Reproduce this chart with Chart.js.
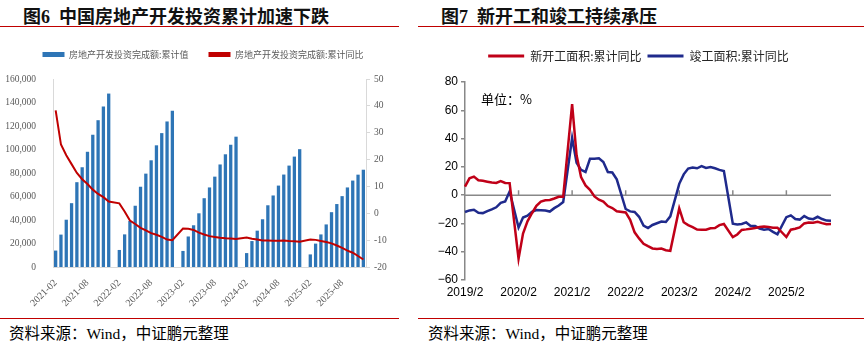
<!DOCTYPE html>
<html>
<head>
<meta charset="utf-8">
<script src="https://cdn.jsdelivr.net/npm/chart.js@4.4.0/dist/chart.umd.min.js"></script>
<style>
  body { margin: 0; background: #fff; width: 864px; height: 347px; overflow: hidden; position: relative; font-family: "Noto Sans CJK SC", sans-serif; }
  .title { position: absolute; top: 2px; font-size: 18px; font-weight: bold; color: #111; white-space: nowrap; font-family: "Liberation Serif", "Noto Sans CJK SC", serif; }
  .rule { position: absolute; height: 0; border-top: 1.5px solid #C00000; }
  .src { position: absolute; top: 321px; font-size: 15.5px; color: #000; white-space: nowrap; font-family: "Liberation Serif", "Noto Sans CJK SC", serif; }
  .box { position: absolute; }
  .unit { position: absolute; left: 481px; top: 89px; font-size: 13px; color: #000; }
</style>
</head>
<body>
<div class="title" style="left:23px">图6&nbsp;&nbsp;中国房地产开发投资累计加速下跌</div>
<div class="title" style="left:441px">图7&nbsp;&nbsp;新开工和竣工持续承压</div>
<div class="rule" style="left:0;width:399px;top:26px"></div>
<div class="rule" style="left:418px;width:446px;top:26px"></div>
<div class="rule" style="left:0;width:399px;top:318px"></div>
<div class="rule" style="left:418px;width:446px;top:318px"></div>
<div class="src" style="left:9px">资料来源：Wind，中证鹏元整理</div>
<div class="src" style="left:428px">资料来源：Wind，中证鹏元整理</div>

<div class="box" style="left:0;top:26px;width:400px;height:289px"><canvas id="inv"></canvas></div>
<div class="box" style="left:432px;top:40px;width:432px;height:275px"><canvas id="area"></canvas></div>
<div class="unit">单位：%</div>

<script>
// ---- data ----
const monthNums = ['01','02','03','04','05','06','07','08','09','10','11','12'];

// fig 6: investment, 2021-02 .. 2025-12 (Jan not published -> null)
const invYears = ['2021','2022','2023','2024','2025'];
const invLabels = [];
invYears.forEach(y => monthNums.forEach(m => invLabels.push(y + '-' + m)));
invLabels.shift(); // starts at 2021-02

const invValue = [
  13986, 27576, 40240, 54318, 72179, 84895, 98060, 112559, 124934, 136688, 147602,
  null, 14499, 27765, 39154, 52134, 68314, 79462, 90809, 103559, 113945, 123863, 132895,
  null, 13669, 25974, 35514, 45701, 58550, 67717, 76900, 87269, 95922, 104045, 110913,
  null, 11842, 22082, 30928, 40632, 52529, 60877, 69284, 78680, 86309, 93948, 100280,
  null, 10720, 19904, 27730, 36234, 46658, 53580, 60309, 67706, 73563, 78591, 82788
];
const invYoY = [
  38.3, 25.6, 21.6, 18.3, 15.0, 12.7, 10.9, 8.8, 7.2, 6.0, 4.4,
  null, 3.7, 0.7, -2.7, -4.0, -5.4, -6.4, -7.4, -8.0, -8.8, -9.8, -10.0,
  null, -5.7, -5.8, -6.2, -7.2, -7.9, -8.5, -8.8, -9.1, -9.3, -9.4, -9.6,
  null, -9.0, -9.5, -9.8, -10.1, -10.1, -10.2, -10.2, -10.1, -10.3, -10.4, -10.6,
  null, -9.8, -9.9, -10.3, -10.7, -11.2, -12.0, -12.9, -13.9, -14.7, -15.9, -17.2
];

// fig 7: new starts / completions, 2019/2 .. 2025/12
const areaYears = ['2019','2020','2021','2022','2023','2024','2025'];
const areaLabels = [];
areaYears.forEach(y => monthNums.forEach(m => areaLabels.push(y + '/' + Number(m))));
areaLabels.shift(); // starts at 2019/2

const newStartYoY = [
  6.0, 11.9, 13.1, 10.5, 10.1, 9.5, 8.9, 8.6, 10.0, 8.6, 8.5,
  null, -44.9, -27.2, -18.5, -12.8, -7.6, -4.5, -3.6, -3.4, -2.4, -1.2, -1.2,
  null, 64.3, 28.2, 12.8, 6.9, 3.8, -0.9, -3.2, -4.5, -7.7, -9.1, -11.4,
  null, -12.2, -17.5, -26.3, -30.6, -34.4, -36.1, -37.7, -38.0, -37.8, -38.9, -39.4,
  null, -9.4, -19.2, -21.2, -22.6, -24.3, -24.5, -24.4, -23.4, -23.2, -21.2, -20.4,
  null, -29.7, -27.8, -24.6, -24.2, -23.7, -23.2, -22.5, -22.2, -22.6, -23.0, -23.0,
  null, -29.6, -24.4, -23.8, -22.8, -20.0, -19.4, -19.5, -18.9, -19.8, -20.5, -20.4
];
const completedYoY = [
  -11.9, -10.8, -10.3, -12.4, -12.7, -11.3, -10.0, -8.6, -5.5, -4.5, 2.6,
  null, -22.9, -15.8, -14.5, -11.8, -10.5, -10.6, -10.8, -11.6, -9.2, -7.3, -4.9,
  null, 40.4, 22.9, 17.9, 16.4, 25.7, 25.7, 26.0, 23.4, 16.3, 16.0, 11.2,
  null, -9.8, -11.5, -11.9, -15.3, -21.5, -23.3, -21.1, -19.9, -18.7, -19.0, -15.0,
  null, 8.0, 14.7, 18.8, 19.6, 19.0, 20.5, 19.2, 19.8, 19.0, 17.9, 17.0,
  null, -20.2, -20.7, -20.4, -19.3, -21.8, -21.8, -23.6, -24.4, -23.9, -26.0, -27.7,
  null, -15.6, -14.3, -16.9, -17.3, -14.8, -16.5, -17.0, -15.3, -16.9, -18.0, -18.1
];

// ---- helpers ----
// extra space under the legend, and a small sideways nudge
function legendTweak(gap, dx) {
  return {
    id: 'legendTweak',
    beforeInit(chart) {
      const fit = chart.legend.fit;
      chart.legend.fit = function () {
        fit.call(this);
        this.height += gap;
      };
    },
    afterLayout(chart) {
      chart.legend.left += dx;
      chart.legend.right += dx;
    }
  };
}
const flatBoxes = chart => Chart.defaults.plugins.legend.labels.generateLabels(chart)
  .map(i => Object.assign(i, { lineWidth: 0 }));

// ---- fig 6 ----
const gray = '#595959';
new Chart(document.getElementById('inv'), {
  data: {
    labels: invLabels,
    datasets: [
      {
        type: 'line', label: '房地产开发投资完成额:累计同比', data: invYoY, yAxisID: 'y1',
        borderColor: '#C00000', backgroundColor: '#C00000', borderWidth: 2,
        pointRadius: 0, tension: 0, spanGaps: true, order: 0
      },
      {
        type: 'bar', label: '房地产开发投资完成额:累计值', data: invValue, yAxisID: 'y',
        backgroundColor: '#2E75B6', borderColor: '#2E75B6', barPercentage: 0.62, categoryPercentage: 1, order: 1
      }
    ]
  },
  plugins: [legendTweak(10, 3)],
  options: {
    responsive: true, maintainAspectRatio: false, animation: false,
    layout: { padding: { top: 4, left: 0, right: 0, bottom: 0 } },
    plugins: {
      tooltip: { enabled: false },
      legend: {
        reverse: true,
        labels: {
          boxWidth: 22, boxHeight: 5, padding: 20, color: gray,
          font: { size: 9, family: '"Noto Sans CJK SC", sans-serif' },
          generateLabels: flatBoxes
        }
      }
    },
    scales: {
      x: {
        type: 'category', offset: true,
        grid: { display: false },
        border: { color: '#d9d9d9' },
        ticks: {
          autoSkip: false, minRotation: 45, maxRotation: 45, color: gray, padding: 2,
          font: { size: 10, family: '"Liberation Serif", serif' },
          callback: (v, i) => (i % 6 === 0 ? invLabels[i] : '')
        },
        afterFit: s => { s.height = 48; }
      },
      y: {
        position: 'left', min: 0, max: 160000,
        grid: { display: false },
        border: { color: '#d9d9d9' },
        ticks: {
          stepSize: 20000, color: gray, padding: 9,
          font: { size: 9.5, family: '"Liberation Serif", serif' },
          callback: v => v.toLocaleString('en-US')
        },
        afterFit: s => { s.width = 53; }
      },
      y1: {
        position: 'right', min: -20, max: 50,
        grid: { drawOnChartArea: false, drawTicks: true, tickLength: 4, color: '#d9d9d9' },
        border: { color: '#d9d9d9' },
        ticks: { stepSize: 10, color: gray, padding: 4, font: { size: 9.5, family: '"Liberation Serif", serif' } },
        afterFit: s => { s.width = 34; }
      }
    }
  }
});

// ---- fig 7 ----
const zeroAxis = {
  id: 'zeroAxis',
  beforeDatasetsDraw(chart) {
    const { ctx, chartArea, scales } = chart;
    const y0 = scales.y.getPixelForValue(0);
    ctx.save();
    ctx.strokeStyle = '#888';
    ctx.lineWidth = 1.5;
    ctx.beginPath();
    ctx.moveTo(chartArea.left, y0);
    ctx.lineTo(chartArea.right, y0);
    areaLabels.forEach((l, i) => {
      if (i > 0 && l.endsWith('/2')) {
        const x = scales.x.getPixelForValue(i);
        ctx.moveTo(x, y0);
        ctx.lineTo(x, y0 - 5);
      }
    });
    ctx.stroke();
    ctx.restore();
  }
};

new Chart(document.getElementById('area'), {
  type: 'line',
  data: {
    labels: areaLabels,
    datasets: [
      {
        label: '新开工面积:累计同比', data: newStartYoY,
        borderColor: '#C00018', backgroundColor: '#C00018', borderWidth: 2.5,
        pointRadius: 0, tension: 0, spanGaps: true
      },
      {
        label: '竣工面积:累计同比', data: completedYoY,
        borderColor: '#1F2A8C', backgroundColor: '#1F2A8C', borderWidth: 2.5,
        pointRadius: 0, tension: 0, spanGaps: true
      }
    ]
  },
  plugins: [zeroAxis, legendTweak(10, 7)],
  options: {
    responsive: true, maintainAspectRatio: false, animation: false,
    layout: { padding: { top: 4, left: 0, right: 33, bottom: 0 } },
    plugins: {
      tooltip: { enabled: false },
      legend: {
        labels: {
          boxWidth: 36, boxHeight: 3, padding: 6, color: '#262626',
          font: { size: 12, family: '"Noto Sans CJK SC", sans-serif' },
          generateLabels: flatBoxes
        }
      }
    },
    scales: {
      x: {
        type: 'category', offset: false,
        grid: { display: false, drawTicks: false },
        border: { display: false },
        ticks: {
          autoSkip: false, maxRotation: 0, color: '#000', padding: 5,
          font: { size: 12, family: '"Liberation Sans", Arial, sans-serif' },
          callback: (v, i) => (areaLabels[i].endsWith('/2') ? areaLabels[i] : '')
        },
        afterFit: s => { s.height = 35; }
      },
      y: {
        min: -60, max: 80,
        grid: { drawOnChartArea: false, drawTicks: true, tickLength: 4, color: '#888', lineWidth: 1.5 },
        border: { color: '#888', width: 1.5 },
        ticks: {
          stepSize: 20, color: '#000', padding: 3,
          font: { size: 12, family: '"Liberation Sans", Arial, sans-serif' },
          callback: v => (v < 0 ? '\u2212' + Math.abs(v) : String(v))
        },
        afterFit: s => { s.width = 33; }
      }
    }
  }
});
</script>
</body>
</html>
